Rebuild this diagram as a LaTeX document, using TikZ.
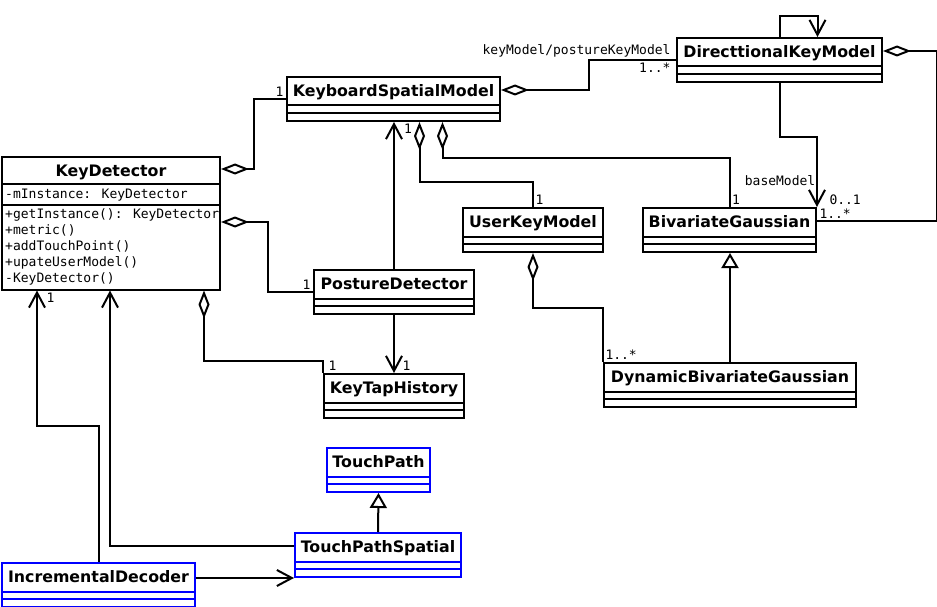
\documentclass[tikz,border=0pt]{standalone}
\usepackage{fontspec}
\setmainfont{DejaVu Sans}
\newfontfamily\umlmono{DejaVu Sans Mono}
\usetikzlibrary{arrows.meta,positioning}

\tikzset{
  compartments/.style n args={3}{path picture={
      \draw[line width=2pt,#3]
        ([yshift=-#1]path picture bounding box.north west) -- ([yshift=-#1]path picture bounding box.north east)
        ([yshift=-#2]path picture bounding box.north west) -- ([yshift=-#2]path picture bounding box.north east);}},
  umlclass/.style={draw, line width=2pt, anchor=north west, inner xsep=2pt, inner ysep=0pt,
    minimum height=44pt, text height=19.5pt, text depth=24.5pt,
    font=\bfseries\fontsize{15.8}{18}\selectfont, compartments={28.5pt}{36pt}{black}},
  blueclass/.style={umlclass, draw=blue, compartments={28.5pt}{36pt}{blue}},
  member/.style={font=\umlmono\fontsize{13}{16}\selectfont, inner sep=0pt, anchor=base west},
  mult/.style={font=\umlmono\fontsize{13}{13}\selectfont, inner sep=1.5pt},
  conn/.style={line width=2pt},
  aggr/.style={conn, {Diamond[open,length=28pt,width=11pt]}-},
  assoc/.style={conn, -{Straight Barb[length=15pt,width=16pt]}},
  inherit/.style={conn, -{Triangle[open,length=15pt,width=17pt]}},
}

\begin{document}
\begin{tikzpicture}[x=1pt,y=-1pt]
  \useasboundingbox (0,0) rectangle (937,607);

  % classes
  \node[umlclass, minimum width=218pt, minimum height=132pt, text depth=113pt,
        compartments={27pt}{48pt}{black}] (kd) at (1,156) {KeyDetector};
  \node[member] (kdattr) at ([xshift=4pt,yshift=-42pt]kd.north west) {-mInstance: KeyDetector};
  \foreach \op [count=\i] in {+getInstance(): KeyDetector,+metric(),+addTouchPoint(),+upateUserModel(),-KeyDetector()}
    \node[member] (kdop\i) at ([xshift=4pt,yshift={-46pt-16pt*\i}]kd.north west) {\op};

  \node[umlclass, minimum width=213pt] (ksm) at (286,76) {KeyboardSpatialModel};
  \node[umlclass, minimum width=205pt] (dkm) at (676,37) {DirecttionalKeyModel};
  \node[umlclass, minimum width=173pt] (bg) at (642,207) {BivariateGaussian};
  \node[umlclass, minimum width=140pt] (ukm) at (462,207) {UserKeyModel};
  \node[umlclass, minimum width=160pt] (pd) at (313,269) {PostureDetector};
  \node[umlclass, minimum width=140pt] (kth) at (323,373) {KeyTapHistory};
  \node[umlclass, minimum width=252pt] (dbg) at (603,362) {DynamicBivariateGaussian};
  \node[blueclass, minimum width=103pt] (tp) at (326,447) {TouchPath};
  \node[blueclass, minimum width=166pt] (tps) at (294,532) {TouchPathSpatial};
  \node[blueclass, minimum width=193pt] (id) at (1,562) {IncrementalDecoder};

  % key detector
  \draw[aggr] ([yshift=-13pt]kd.north east) -- ++(33,0) |- (ksm.west) node[mult, above left] (m1) {1};
  \draw[aggr] ([yshift=-66pt]kd.north east) -- ++(47,0) |- (pd.west) node[mult, above left] (m2) {1};
  \draw[aggr] ([xshift=-17pt]kd.south east) |- ([yshift=12pt]kth.north west) -- (kth.north west)
    node[mult, above right, xshift=3pt] (m3) {1};

  % keyboard spatial model
  \draw[aggr] ([yshift=-14pt]ksm.north east) -- ++(88,0) |- (dkm.west)
    node[mult, above left, xshift=-3pt] (m4) {keyModel/postureKeyModel}
    node[mult, below left, xshift=-3pt] (m5) {1..*};
  \draw[aggr] ([xshift=26pt]ksm.south) node[mult, below left, xshift=-5pt] (m6) {1}
    -- ++(0,60) -| (ukm.north) node[mult, above right] (m7) {1};
  \draw[aggr] ([xshift=49pt]ksm.south) -- ++(0,36) -| (bg.north) node[mult, above right] (m8) {1};

  % posture detector
  \draw[assoc] (pd.north) -- (ksm.south -| pd.north);
  \draw[assoc] (pd.south) -- (kth.north) node[mult, above right, xshift=6pt] (m9) {1};

  % directional key model
  \draw[assoc] (dkm.north) -- ++(0,-21) -| ([xshift=38pt]dkm.north);
  \draw[assoc] (dkm.south) -- ++(0,54) -| (bg.north east) node[mult, above right, xshift=10pt] (m10) {0..1};
  \node[mult, anchor=south east] (m11) at ([yshift=20pt]bg.north east) {baseModel};
  \draw[aggr] ([yshift=-14pt]dkm.north east) -- ++(54,0) |- ([yshift=-14pt]bg.north east)
    node[mult, above right] (m12) {1..*};

  % gaussians
  \draw[inherit] (dbg.north) -- (dbg.north |- bg.south);
  \draw[aggr] (ukm.south) -- ++(0,55) -| (dbg.north west) node[mult, above right] (m13) {1..*};

  % touch path
  \draw[inherit] (tps.north) -- (tp.south);
  \draw[assoc] ([yshift=-14pt]tps.north west) -| ([xshift=109pt]kd.south west);
  \draw[assoc] (id.north) -- ++(0,-136) -| ([xshift=36pt]kd.south west)
    node[mult, below right, xshift=7pt] (m14) {1};
  \draw[assoc] (id.east |- tps.south) -- (tps.south west);
\end{tikzpicture}
\end{document}
